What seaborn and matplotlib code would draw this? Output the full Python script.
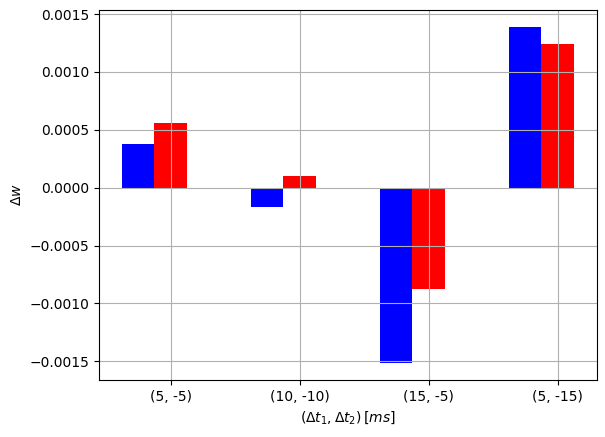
import numpy as np
import pandas as pd
import seaborn as sns
import matplotlib
matplotlib.use("Agg")
import matplotlib.pyplot as plt

# --- DATA ---
pairs = ["(5, -5)", "(10, -10)", "(15, -5)", "(5, -15)"]
dw_first = [0.000375, -0.000171, -0.001517, 0.001390]
dw_second = [0.000558, 0.000098, -0.000879, 0.001243]
series_names = ["first", "second"]
series_colors = ["blue", "red"]

df = pd.DataFrame({
    "pair": pairs * 2,
    "dw": dw_first + dw_second,
    "series": [series_names[0]] * len(pairs) + [series_names[1]] * len(pairs),
})

fig = plt.figure(figsize=(6.05, 4.37), dpi=100)
ax = fig.add_axes([99 / 605, 57 / 437, 498 / 605, 370 / 437])

sns.barplot(data=df, x="pair", y="dw", hue="series", order=pairs,
            hue_order=series_names, palette=series_colors, width=0.5,
            linewidth=0, saturation=1, legend=False, ax=ax)

# ticks sit on the centre of the second bar of each pair
n = len(pairs)
ax.set_xticks(np.arange(n) + 0.125)
ax.set_xticklabels(pairs)
ax.set_xlim(-0.43, n - 1 + 0.431)

# same 5% padding matplotlib would give
lo, hi = min(dw_first + dw_second), max(dw_first + dw_second)
pad = 0.05 * (hi - lo)
ax.set_ylim(lo - pad, hi + pad)

ax.grid(True)
ax.set_xlabel(r"$(\Delta t_1, \Delta t_2)\,[ms]$")
ax.set_ylabel(r"$\Delta w$")

fig.savefig("out.png", dpi=100)
